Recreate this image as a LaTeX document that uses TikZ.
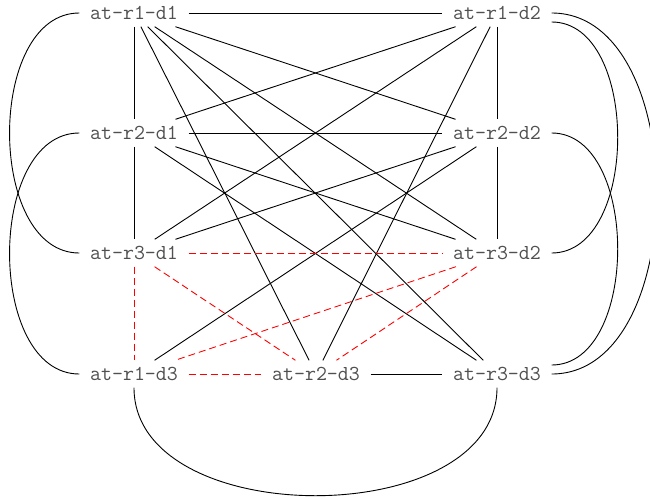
\documentclass[tikz,border=0pt]{standalone}
\usepackage{fontspec}
\definecolor{labelgray}{RGB}{80,80,80}
\begin{document}
\begin{tikzpicture}[x=1pt,y=-1pt,
  vm/.style={rectangle, inner sep=0pt, minimum width=109pt, minimum height=27pt,
    font=\ttfamily\fontsize{21.3}{24}\selectfont, text=labelgray},
  link/.style={black, line width=0.9pt},
  redlink/.style={red, line width=0.9pt, dash pattern=on 7pt off 4pt}]
\useasboundingbox (0,0) rectangle (650,498);
\clip (0,0) rectangle (650,498);
\node[vm] (A) at (134,13) {at-r1-d1};
\node[vm] (B) at (497,13) {at-r1-d2};
\node[vm] (C) at (134,133) {at-r2-d1};
\node[vm] (D) at (497,133) {at-r2-d2};
\node[vm] (E) at (134,253) {at-r3-d1};
\node[vm] (F) at (497,253) {at-r3-d2};
\node[vm] (G) at (134,374) {at-r1-d3};
\node[vm] (H) at (316,374) {at-r2-d3};
\node[vm] (I) at (497,374) {at-r3-d3};
% straight solid edges
\draw[link] (A) -- (B);
\draw[link] (A) -- (C);
\draw[link] (C) -- (E);
\draw[link] (B) -- (D);
\draw[link] (D) -- (F);
\draw[link] (H) -- (I);
\draw[link] (A) -- (D);
\draw[link] (A) -- (F);
\draw[link] (A) -- (H);
\draw[link] (A) -- (I);
\draw[link] (B) -- (C);
\draw[link] (B) -- (E);
\draw[link] (B) -- (H);
\draw[link] (C) -- (D);
\draw[link] (C) -- (F);
\draw[link] (C) -- (I);
\draw[link] (D) -- (E);
\draw[link] (D) -- (G);
% curved solid edges
\draw[link] (A.west) .. controls +(-93,0) and +(-93,0) .. (E.west);
\draw[link] (C.west) .. controls +(-93,0) and +(-93,0) .. (G.west);
\draw[link] ([yshift=-9pt]B.east) .. controls +(88,0) and +(88,0) .. (F.east);
\draw[link] (D.east) .. controls +(88,0) and +(88,0) .. ([yshift=9pt]I.east);
\draw[link] (B.east) .. controls +(140,0) and +(140,0) .. (I.east);
\draw[link] (G.south) .. controls +(0,144) and +(0,144) .. (I.south);
% dashed red edges
\draw[redlink] (E) -- (F);
\draw[redlink] (E) -- (G);
\draw[redlink] (E) -- (H);
\draw[redlink] (F) -- (G);
\draw[redlink] (F) -- (H);
\draw[redlink] (G) -- (H);
\end{tikzpicture}
\end{document}
